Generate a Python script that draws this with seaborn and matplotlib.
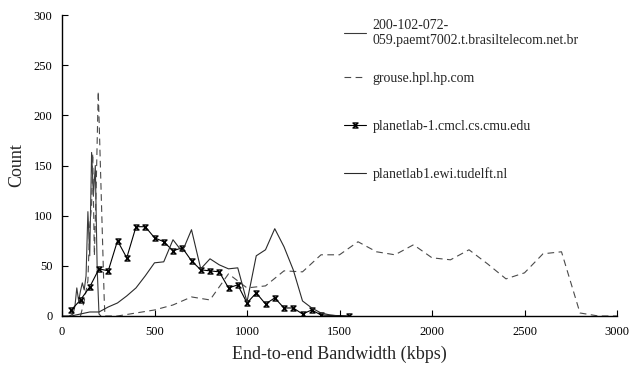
import numpy as np
import pandas as pd
import matplotlib
matplotlib.use("Agg")
import matplotlib.pyplot as plt
from matplotlib.path import Path
import seaborn as sns

# ---- data ----
brasil_x = [40, 60, 70, 80, 90, 100, 110, 120, 130, 140, 150, 160, 170, 180, 190, 200, 210]
brasil_y = [0, 2, 10, 28, 15, 25, 33, 26, 40, 104, 60, 163, 120, 150, 48, 2, 0]

grouse_x = [100, 120, 140, 150, 160, 166, 175, 185, 196, 228, 232, 300,
            400, 500, 600, 700, 800, 900, 1000, 1100, 1200, 1300, 1400, 1500,
            1600, 1700, 1800, 1900, 2000, 2100, 2200, 2300, 2400, 2500, 2600,
            2700, 2800, 2900, 3000]
grouse_y = [0, 15, 35, 90, 110, 162, 60, 130, 224, 18, 0, 0,
            3, 6, 11, 19, 16, 42, 28, 30, 45, 44, 61, 61,
            74, 64, 61, 71, 58, 56, 66, 52, 37, 43, 62,
            64, 3, 0, 0]

cmu_x = [50, 100, 150, 200, 250, 300, 350, 400, 450, 500, 550, 600, 650, 700,
         750, 800, 850, 900, 950, 1000, 1050, 1100, 1150, 1200, 1250, 1300,
         1350, 1400, 1550]
cmu_y = [6, 16, 29, 47, 45, 75, 58, 89, 89, 78, 74, 65, 68, 55,
         46, 45, 44, 28, 31, 13, 23, 12, 18, 8, 8, 2,
         6, 1, 0]

delft_x = [0, 50, 100, 150, 200, 250, 300, 350, 400, 450, 500, 550, 600, 650,
           700, 750, 800, 850, 900, 950, 1000, 1050, 1100, 1150, 1200, 1250,
           1300, 1350, 1400, 1450, 1500]
delft_y = [0, 0, 2, 4, 4, 9, 13, 20, 28, 40, 53, 54, 76, 64,
           86, 47, 57, 51, 47, 48, 14, 60, 66, 87, 69, 46,
           15, 8, 3, 1, 0]

labels = ["200-102-072-\n059.paemt7002.t.brasiltelecom.net.br",
          "grouse.hpl.hp.com",
          "planetlab-1.cmcl.cs.cmu.edu",
          "planetlab1.ewi.tudelft.nl"]

x_ticks = [0, 500, 1000, 1500, 2000, 2500, 3000]
y_ticks = [0, 50, 100, 150, 200, 250, 300]

# ---- style ----
sns.set_theme(style="ticks")
plt.rcParams["font.family"] = ["Liberation Serif", "DejaVu Serif"]
plt.rcParams["xtick.direction"] = "in"
plt.rcParams["ytick.direction"] = "in"

fig = plt.figure(figsize=(6.31, 3.70), dpi=100)
ax = fig.add_axes([62 / 631, 1 - 316 / 370, (617 - 62) / 631, (316 - 15) / 370])

hourglass = Path([(-1, 1), (1, 1), (-1, -1), (1, -1), (-1, 1)],
                 [Path.MOVETO, Path.LINETO, Path.LINETO, Path.LINETO, Path.CLOSEPOLY])

sns.lineplot(x=brasil_x, y=brasil_y, ax=ax, color="#3a3a3a", linewidth=0.8,
             errorbar=None, label=labels[0])
sns.lineplot(x=grouse_x, y=grouse_y, ax=ax, color="#4a4a4a", linewidth=0.8,
             errorbar=None, label=labels[1], dashes=False)
ax.lines[-1].set_linestyle((0, (6, 4)))
sns.lineplot(x=cmu_x, y=cmu_y, ax=ax, color="black", linewidth=0.8,
             errorbar=None, label=labels[2], marker=hourglass, markersize=3.6,
             markerfacecolor="white", markeredgecolor="black", markeredgewidth=1.0)
sns.lineplot(x=delft_x, y=delft_y, ax=ax, color="#2a2a2a", linewidth=0.8,
             errorbar=None, label=labels[3])

ax.set_xlim(0, 3000)
ax.set_ylim(0, 300)
ax.set_xticks(x_ticks)
ax.set_yticks(y_ticks)
ax.tick_params(axis="both", labelsize=9, length=4, width=0.8, pad=7, colors="black")
for s in ["top", "right"]:
    ax.spines[s].set_visible(False)
for s in ["left", "bottom"]:
    ax.spines[s].set_linewidth(1.0)
    ax.spines[s].set_color("black")

ax.set_xlabel("End-to-end Bandwidth (kbps)", fontsize=13, labelpad=6)
ax.set_ylabel("Count", fontsize=13, labelpad=6)

handles, hl = ax.get_legend_handles_labels()
leg_kw = dict(loc="upper left", bbox_transform=fig.transFigure, frameon=False,
              fontsize=10, handlelength=1.6, handletextpad=0.45,
              borderpad=0, borderaxespad=0)
leg1 = ax.legend(handles[:1], hl[:1], bbox_to_anchor=(344 / 631, 1 - 19 / 370),
                 labelspacing=0.2, **leg_kw)
ax.add_artist(leg1)
ax.legend(handles[1:], hl[1:], bbox_to_anchor=(344 / 631, 1 - 72 / 370),
          labelspacing=2.5, **leg_kw)

fig.savefig("out.png", dpi=100)
